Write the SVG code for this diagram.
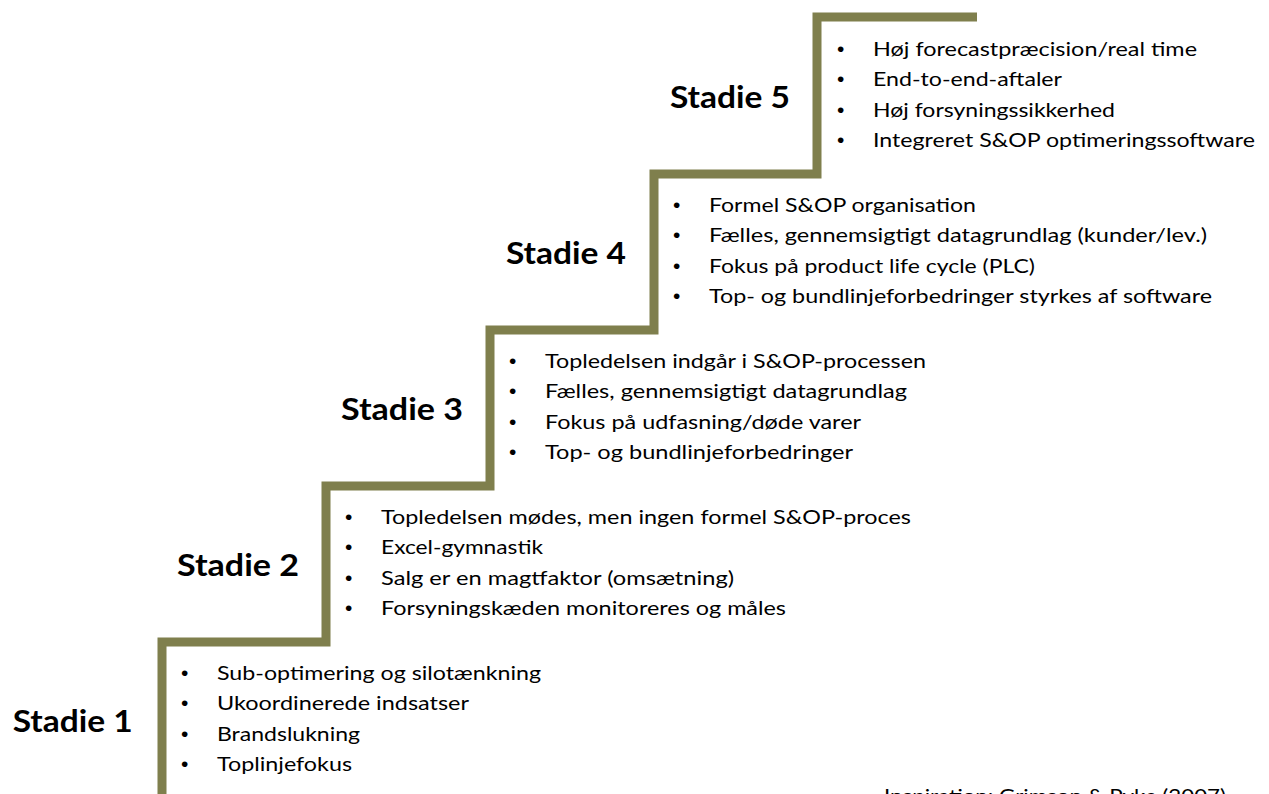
<svg xmlns="http://www.w3.org/2000/svg" width="1269" height="794" viewBox="0 0 1269 794">
<style>
.t{font-family:Lato,"Open Sans","Liberation Sans",sans-serif;font-size:20px;fill:#000}
.b{font-family:"Liberation Sans",Arial,sans-serif;font-size:21px;fill:#000}
.h{font-family:Lato,"Open Sans","Liberation Sans",sans-serif;font-size:30px;font-weight:bold;fill:#000}
.stair{fill:none;stroke:#7f7f4d;stroke-width:9;stroke-linejoin:miter;stroke-linecap:butt}
</style>
<rect width="1269" height="794" fill="#fff"/>
<g id="connectors">
<path class="stair" d="M162,800 V642 H326 V486 H490 V330 H654 V174 H817 V17 H977"/>
</g>
<g id="stadie5">
<text class="h" x="670" y="108" textLength="120" lengthAdjust="spacingAndGlyphs">Stadie 5</text>
<text class="b" x="837" y="56">•</text><text class="t" x="873" y="56" textLength="324" lengthAdjust="spacingAndGlyphs">Høj forecastpræcision/real time</text>
<text class="b" x="837" y="86.3">•</text><text class="t" x="873" y="86.3" textLength="189" lengthAdjust="spacingAndGlyphs">End-to-end-aftaler</text>
<text class="b" x="837" y="116.6">•</text><text class="t" x="873" y="116.6" textLength="242" lengthAdjust="spacingAndGlyphs">Høj forsyningssikkerhed</text>
<text class="b" x="837" y="147">•</text><text class="t" x="873" y="147" textLength="382" lengthAdjust="spacingAndGlyphs">Integreret S&amp;OP optimeringssoftware</text>
</g>
<g id="stadie4">
<text class="h" x="506" y="264" textLength="120" lengthAdjust="spacingAndGlyphs">Stadie 4</text>
<text class="b" x="673" y="212">•</text><text class="t" x="709" y="212" textLength="267" lengthAdjust="spacingAndGlyphs">Formel S&amp;OP organisation</text>
<text class="b" x="673" y="242.3">•</text><text class="t" x="709" y="242.3" textLength="498" lengthAdjust="spacingAndGlyphs">Fælles, gennemsigtigt datagrundlag (kunder/lev.)</text>
<text class="b" x="673" y="272.6">•</text><text class="t" x="709" y="272.6" textLength="326" lengthAdjust="spacingAndGlyphs">Fokus på product life cycle (PLC)</text>
<text class="b" x="673" y="303">•</text><text class="t" x="709" y="303" textLength="503" lengthAdjust="spacingAndGlyphs">Top- og bundlinjeforbedringer styrkes af software</text>
</g>
<g id="stadie3">
<text class="h" x="341" y="420" textLength="122" lengthAdjust="spacingAndGlyphs">Stadie 3</text>
<text class="b" x="509" y="368">•</text><text class="t" x="545" y="368" textLength="381" lengthAdjust="spacingAndGlyphs">Topledelsen indgår i S&amp;OP-processen</text>
<text class="b" x="509" y="398.3">•</text><text class="t" x="545" y="398.3" textLength="362" lengthAdjust="spacingAndGlyphs">Fælles, gennemsigtigt datagrundlag</text>
<text class="b" x="509" y="428.6">•</text><text class="t" x="545" y="428.6" textLength="316" lengthAdjust="spacingAndGlyphs">Fokus på udfasning/døde varer</text>
<text class="b" x="509" y="459">•</text><text class="t" x="545" y="459" textLength="308" lengthAdjust="spacingAndGlyphs">Top- og bundlinjeforbedringer</text>
</g>
<g id="stadie2">
<text class="h" x="177" y="576" textLength="122" lengthAdjust="spacingAndGlyphs">Stadie 2</text>
<text class="b" x="345" y="524">•</text><text class="t" x="381" y="524" textLength="530" lengthAdjust="spacingAndGlyphs">Topledelsen mødes, men ingen formel S&amp;OP-proces</text>
<text class="b" x="345" y="554.3">•</text><text class="t" x="381" y="554.3" textLength="162" lengthAdjust="spacingAndGlyphs">Excel-gymnastik</text>
<text class="b" x="345" y="584.6">•</text><text class="t" x="381" y="584.6" textLength="353" lengthAdjust="spacingAndGlyphs">Salg er en magtfaktor (omsætning)</text>
<text class="b" x="345" y="615">•</text><text class="t" x="381" y="615" textLength="405" lengthAdjust="spacingAndGlyphs">Forsyningskæden monitoreres og måles</text>
</g>
<g id="stadie1">
<text class="h" x="12.7" y="732" textLength="120" lengthAdjust="spacingAndGlyphs">Stadie 1</text>
<text class="b" x="181" y="680">•</text><text class="t" x="217" y="680" textLength="324" lengthAdjust="spacingAndGlyphs">Sub-optimering og silotænkning</text>
<text class="b" x="181" y="710.3">•</text><text class="t" x="217" y="710.3" textLength="252" lengthAdjust="spacingAndGlyphs">Ukoordinerede indsatser</text>
<text class="b" x="181" y="740.6">•</text><text class="t" x="217" y="740.6" textLength="143" lengthAdjust="spacingAndGlyphs">Brandslukning</text>
<text class="b" x="181" y="771">•</text><text class="t" x="217" y="771" textLength="135" lengthAdjust="spacingAndGlyphs">Toplinjefokus</text>
</g>
<g id="source">
<text class="t" x="884" y="803" textLength="342" lengthAdjust="spacingAndGlyphs">Inspiration: Grimson &amp; Pyke (2007)</text>
</g>
</svg>
